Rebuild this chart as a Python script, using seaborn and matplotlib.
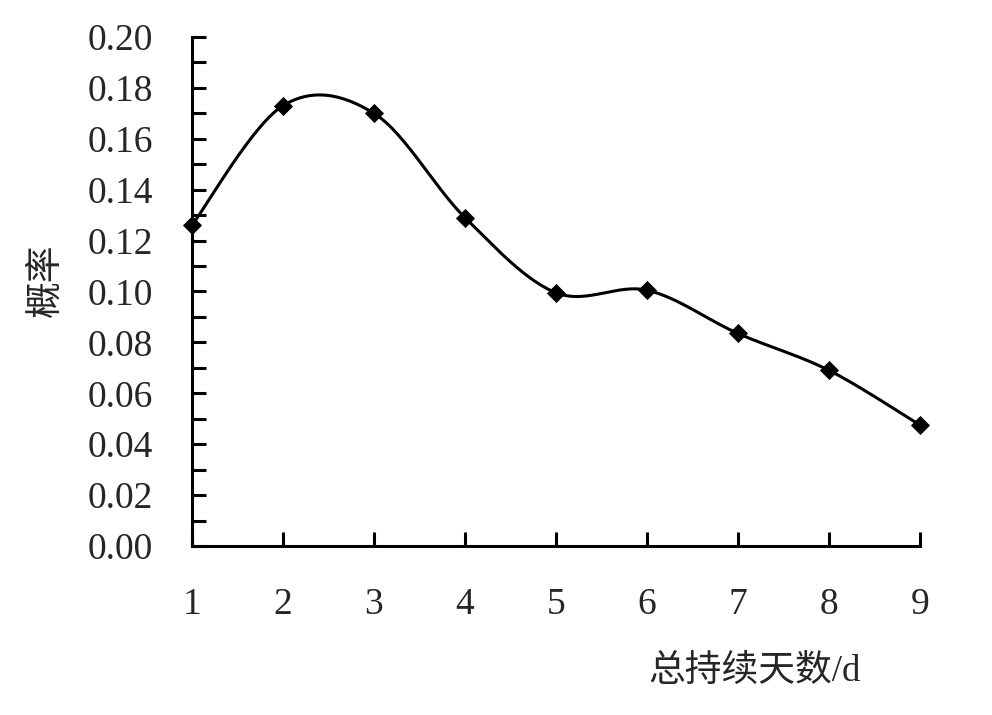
import numpy as np
import pandas as pd
import matplotlib
matplotlib.use("Agg")
import matplotlib.pyplot as plt
from matplotlib.ticker import MultipleLocator, FormatStrFormatter
import seaborn as sns

days = [1, 2, 3, 4, 5, 6, 7, 8, 9]
prob = [0.126, 0.173, 0.170, 0.129, 0.0995, 0.1005, 0.0835, 0.069, 0.0475]
x_label = "总持续天数/d"
y_label = "概率"

sns.set_theme(style="white")
plt.rcParams['font.family'] = ['Liberation Serif', 'Noto Sans CJK SC']

# Excel-like smoothed curve (Catmull-Rom Bezier through the data points)
def smooth(xs, ys, n=30):
    P = np.column_stack([xs, ys]).astype(float)
    P_ext = np.vstack([P[0], P, P[-1]])
    out = []
    for i in range(len(P) - 1):
        p0, p1, p2, p3 = P_ext[i], P_ext[i + 1], P_ext[i + 2], P_ext[i + 3]
        c1 = p1 + (p2 - p0) / 6.0
        c2 = p2 - (p3 - p1) / 6.0
        t = np.linspace(0, 1, n, endpoint=(i == len(P) - 2))[:, None]
        b = ((1 - t) ** 3) * p1 + 3 * ((1 - t) ** 2) * t * c1 + 3 * (1 - t) * t ** 2 * c2 + t ** 3 * p2
        out.append(b)
    out = np.vstack(out)
    return out[:, 0], out[:, 1]

sx, sy = smooth(days, prob)
curve = pd.DataFrame({"x": sx, "y": sy})
pts = pd.DataFrame({"x": days, "y": prob})

fig = plt.figure(figsize=(9.92, 7.15), dpi=100)
ax = fig.add_axes([0.1935, 0.2364, 0.7339, 0.7119])

sns.lineplot(data=curve, x="x", y="y", ax=ax, color="black", linewidth=2.2,
             sort=False, estimator=None, clip_on=False)
sns.scatterplot(data=pts, x="x", y="y", ax=ax, marker="D", color="black",
                s=95, edgecolor="black", linewidth=0, clip_on=False, zorder=5)

ax.set_xlim(1, 9)
ax.set_ylim(0, 0.20)
ax.set_xticks(days)
ax.yaxis.set_major_locator(MultipleLocator(0.02))
ax.yaxis.set_minor_locator(MultipleLocator(0.01))
ax.yaxis.set_major_formatter(FormatStrFormatter('%.2f'))

for s in ["top", "right"]:
    ax.spines[s].set_visible(False)
for s in ["left", "bottom"]:
    ax.spines[s].set_linewidth(2.2)
    ax.spines[s].set_color("black")

ax.tick_params(axis='y', which='both', direction='in', length=10, width=2.2,
               color='black', labelsize=27, pad=28, left=True)
ax.tick_params(axis='x', which='both', direction='in', length=10, width=2.2,
               color='black', labelsize=27, pad=30, bottom=True)

ax.set_xlabel(x_label, fontsize=26.5, family=['Liberation Serif', 'Noto Sans CJK SC'])
ax.xaxis.set_label_coords(0.773, -0.2475)
ax.xaxis.label.set_va('center')
ax.set_ylabel(y_label, fontsize=26.5, family=['Noto Sans CJK SC'])
ax.yaxis.set_label_coords(-0.202, 0.5226)
ax.yaxis.label.set_va('center')

fig.savefig("out.png", dpi=100, facecolor="white")
